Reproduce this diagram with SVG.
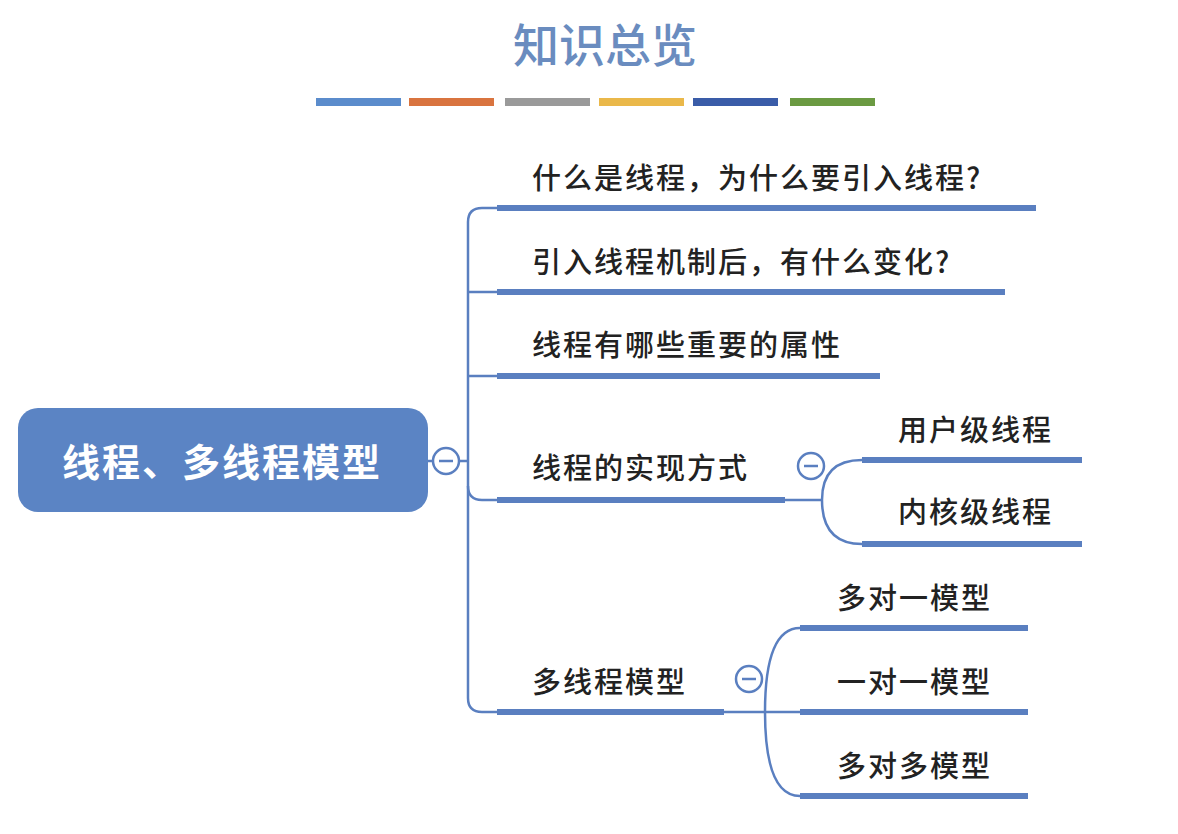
<svg xmlns="http://www.w3.org/2000/svg" width="1178" height="834" viewBox="0 0 1178 834">
<style>
.t{font-family:"Noto Sans CJK SC","Noto Sans",sans-serif;font-size:29px;font-weight:500;letter-spacing:2px;fill:#222}
.ul{stroke:#5a7fc0;stroke-width:6;fill:none}
.c{stroke:#5a7fc0;stroke-width:2.5;fill:none}
.m{fill:#fff;stroke:#5a7fc0;stroke-width:2.5}
</style>
<rect width="1178" height="834" fill="#fff"/>
<text x="605" y="62" text-anchor="middle" font-family="'Noto Sans CJK SC',serif" font-size="46" font-weight="500" fill="#6a8cbf">知识总览</text>
<g id="bars">
<rect x="316" y="98" width="85" height="8" fill="#5b8ccc"/>
<rect x="409" y="98" width="85" height="8" fill="#d9743f"/>
<rect x="505" y="98" width="85" height="8" fill="#9a9a9a"/>
<rect x="599" y="98" width="85" height="8" fill="#eab84a"/>
<rect x="693" y="98" width="85" height="8" fill="#3a5ca8"/>
<rect x="790" y="98" width="85" height="8" fill="#6b9a42"/>
</g>
<g id="connectors">
<path class="c" d="M428 461H433M459 461H468"/>
<path class="c" d="M497 208H482Q468 208 468 222V698Q468 712 482 712H497"/>
<path class="c" d="M468 292H497M468 376H497M468 486Q468 500 482 500H497"/>
<path class="c" d="M785 500H822Q822 460 862 460M822 500Q822 544 862 544"/>
<path class="c" d="M724 712H765Q765 628 800 628M765 712H800M765 712Q765 796 800 796"/>
</g>
<g id="root">
<rect x="18" y="408" width="410" height="104" rx="20" fill="#5b84c4"/>
<text x="222" y="476" text-anchor="middle" font-family="'Noto Sans CJK SC',sans-serif" font-size="38" font-weight="bold" letter-spacing="2" fill="#fff">线程、多线程模型</text>
<circle class="m" cx="446" cy="461" r="13"/><path class="c" d="M439 461H453"/>
</g>
<g id="n1"><path class="ul" d="M497 208H1036"/><text class="t" x="532" y="189">什么是线程，为什么要引入线程?</text></g>
<g id="n2"><path class="ul" d="M497 292H1005"/><text class="t" x="532" y="273">引入线程机制后，有什么变化?</text></g>
<g id="n3"><path class="ul" d="M497 376H880"/><text class="t" x="532" y="356">线程有哪些重要的属性</text></g>
<g id="n4"><path class="ul" d="M497 500H785"/><text class="t" x="532" y="479">线程的实现方式</text>
<circle class="m" cx="811" cy="466" r="13"/><path class="c" d="M804 466H818"/></g>
<g id="n41"><path class="ul" d="M862 460H1082"/><text class="t" x="898" y="441">用户级线程</text></g>
<g id="n42"><path class="ul" d="M862 544H1082"/><text class="t" x="898" y="523">内核级线程</text></g>
<g id="n5"><path class="ul" d="M497 712H724"/><text class="t" x="532" y="693">多线程模型</text>
<circle class="m" cx="749" cy="679" r="13"/><path class="c" d="M742 679H756"/></g>
<g id="n51"><path class="ul" d="M800 628H1028"/><text class="t" x="837" y="609">多对一模型</text></g>
<g id="n52"><path class="ul" d="M800 712H1028"/><text class="t" x="837" y="693">一对一模型</text></g>
<g id="n53"><path class="ul" d="M800 796H1028"/><text class="t" x="837" y="777">多对多模型</text></g>
</svg>
